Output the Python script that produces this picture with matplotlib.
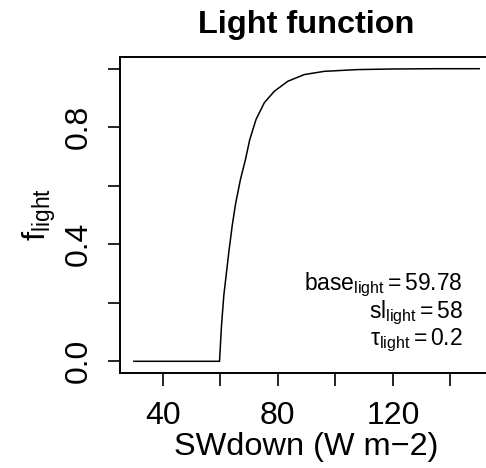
import matplotlib
matplotlib.use("Agg")
import matplotlib.pyplot as plt

plt.rcParams['font.family'] = ['Liberation Sans', 'DejaVu Sans']
plt.rcParams['mathtext.fontset'] = 'custom'
plt.rcParams['mathtext.rm'] = 'Liberation Sans'
plt.rcParams['mathtext.it'] = 'Liberation Sans:italic'
plt.rcParams['mathtext.bf'] = 'Liberation Sans:bold'

# Curve values
sw_down = [30, 40, 50, 59.78, 60.47, 61.27, 62.21, 63.01, 64.18, 65.33, 67.06,
           68.80, 70.29, 72.48, 75.36, 78.83, 83.49, 89.25, 96.19, 107.8,
           120, 135, 150]
f_light = [0.0, 0.0, 0.0, 0.0, 0.123, 0.225, 0.305, 0.373, 0.463, 0.537, 0.622,
           0.690, 0.758, 0.827, 0.884, 0.923, 0.957, 0.980, 0.991, 0.997,
           0.999, 1.0, 1.0]

x_ticks = [40, 60, 80, 100, 120, 140]
x_tick_labels = ['40', '', '80', '', '120', '']
y_ticks = [0.0, 0.2, 0.4, 0.6, 0.8, 1.0]
y_tick_labels = ['0.0', '', '0.4', '', '0.8', '']

params = [r'$\mathrm{base}_{\mathrm{light}} = 59.78$',
          r'$\mathrm{sl}_{\mathrm{light}} = 58$',
          r'$\mathrm{τ}_{\mathrm{light}} = 0.2$']

W, H = 486, 468
fig = plt.figure(figsize=(W / 100, H / 100), dpi=100)
L, R, T, B = 120, 493, 57, 373
ax = fig.add_axes([L / W, 1 - B / H, (R - L) / W, (B - T) / H])

ax.plot(sw_down, f_light, color='black', lw=1.1, solid_joinstyle='round')

ax.set_xlim(25.2, 154.8)
ax.set_ylim(-0.04, 1.04)
ax.set_xticks(x_ticks)
ax.set_xticklabels(x_tick_labels)
ax.set_yticks(y_ticks)
ax.set_yticklabels(y_tick_labels, rotation=90, va='center')

for s in ax.spines.values():
    s.set_linewidth(1.4)
ax.tick_params(axis='both', direction='out', length=9, width=1.2, labelsize=23)
ax.tick_params(axis='x', pad=11)
ax.tick_params(axis='y', pad=10)

ax.set_xlabel('SWdown (W m\u22122)', fontsize=23.4, labelpad=1)
ax.set_ylabel(r'$\mathrm{f}_{\mathrm{light}}$', fontsize=23.4, labelpad=4)
ax.set_title('Light function', fontsize=23.4, fontweight='bold', pad=17)

ys = [290, 318, 345]
for txt, yp in zip(params, ys):
    fig.text(463 / W, 1 - yp / H, txt, ha='right', va='baseline', fontsize=16.5)

fig.savefig('out.png', dpi=100)
